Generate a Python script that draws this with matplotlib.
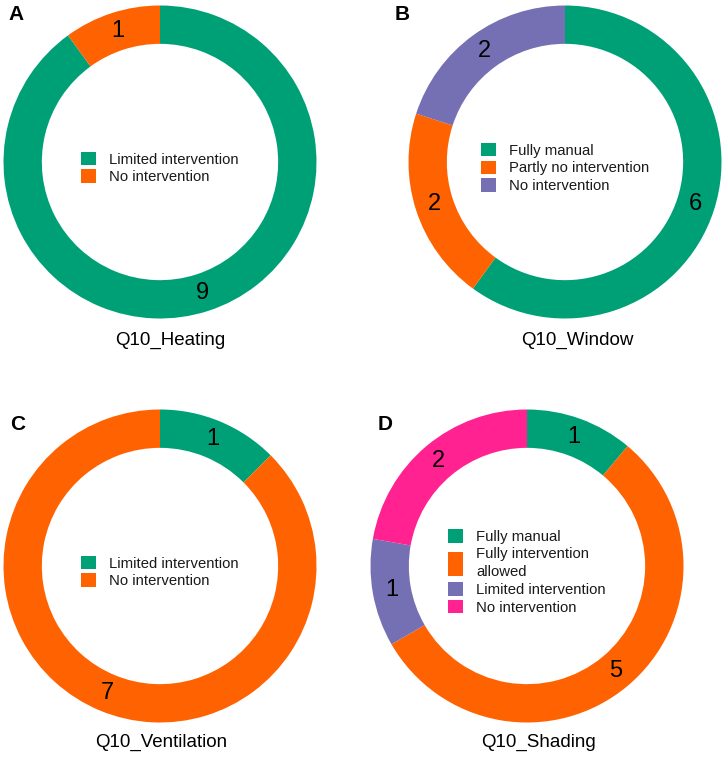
import matplotlib
matplotlib.use("Agg")
import matplotlib.pyplot as plt
from matplotlib.patches import Rectangle
from matplotlib.legend_handler import HandlerPatch

plt.rcParams['font.family'] = ['Liberation Sans', 'DejaVu Sans']

# ---------------- data ----------------
panel_letters = ['A', 'B', 'C', 'D']
titles = ['Q10_Heating', 'Q10_Window', 'Q10_Ventilation', 'Q10_Shading']

heating_cats = ['Limited intervention', 'No intervention']
heating_vals = [9, 1]

window_cats = ['Fully manual', 'Partly no intervention', 'No intervention']
window_vals = [6, 2, 2]

ventilation_cats = ['Limited intervention', 'No intervention']
ventilation_vals = [1, 7]

shading_cats = ['Fully manual', 'Fully intervention\nallowed', 'Limited intervention', 'No intervention']
shading_vals = [1, 5, 1, 2]

GREEN, ORANGE, PURPLE, PINK = '#00A077', '#FF6200', '#7570B3', '#FF2290'
heating_colors = [GREEN, ORANGE]
window_colors = [GREEN, ORANGE, PURPLE]
ventilation_colors = [GREEN, ORANGE]
shading_colors = [GREEN, ORANGE, PURPLE, PINK]

# ---------------- layout (pixels, image coords) ----------------
W, H = 726, 759
centers = [(160, 162), (565, 162), (160, 566), (527, 566)]
title_pos = [(170, 340), (577, 340), (161, 742), (539, 742)]
letter_pos = [(8, 14.5), (395, 15), (10, 424.5), (378, 424.5)]
R = 156.5
RING = 0.245

panels = [
    (heating_cats, heating_vals, heating_colors),
    (window_cats, window_vals, window_colors),
    (ventilation_cats, ventilation_vals, ventilation_colors),
    (shading_cats, shading_vals, shading_colors),
]


class TallPatch(HandlerPatch):
    def __init__(self, scale):
        super().__init__()
        self.scale = scale

    def create_artists(self, legend, orig_handle, xdescent, ydescent,
                       width, height, fontsize, trans):
        extra = height * (self.scale - 1)
        p = Rectangle((-xdescent, -ydescent - extra / 2), width, height + extra,
                      facecolor=orig_handle.get_facecolor(), edgecolor='none',
                      transform=trans)
        return [p]


fig = plt.figure(figsize=(W / 100, H / 100), dpi=100)
ax = fig.add_axes([0, 0, 1, 1])

for i, (cats, vals, cols) in enumerate(panels):
    cx, cy = centers[i]
    total = sum(vals)
    wedges, _, autotexts = ax.pie(
        vals, colors=cols, startangle=90, counterclock=False,
        center=(cx, H - cy), radius=R, frame=True,
        wedgeprops=dict(width=R * RING, edgecolor='none', linewidth=0),
        autopct=lambda p, t=total: f'{int(round(p * t / 100))}',
        pctdistance=1 - RING / 2,
        textprops=dict(fontsize=17, color='black'))
    hmap = {}
    for w, c in zip(wedges, cats):
        if '\n' in c:
            hmap[w] = TallPatch(1.8)
    leg = fig.legend(wedges, cats, loc='center', bbox_to_anchor=(cx, H - (cy + 6)),
                     bbox_transform=ax.transData, frameon=False, fontsize=10.7,
                     handlelength=1.0, handleheight=1.0, handletextpad=0.85,
                     labelspacing=0.2, borderpad=0, handler_map=hmap)
    for t in leg.get_texts():
        t.set_linespacing(1.4)
        t.set_color('#1a1a1a')
    tx, ty = title_pos[i]
    ax.text(tx, H - ty, titles[i], ha='center', va='center', fontsize=13.5)
    lx, ly = letter_pos[i]
    ax.text(lx, H - ly, panel_letters[i], ha='left', va='center',
            fontsize=15, fontweight='bold')

ax.set_xlim(0, W)
ax.set_ylim(0, H)
ax.axis('off')

fig.savefig('out.png', dpi=100, facecolor='white')
